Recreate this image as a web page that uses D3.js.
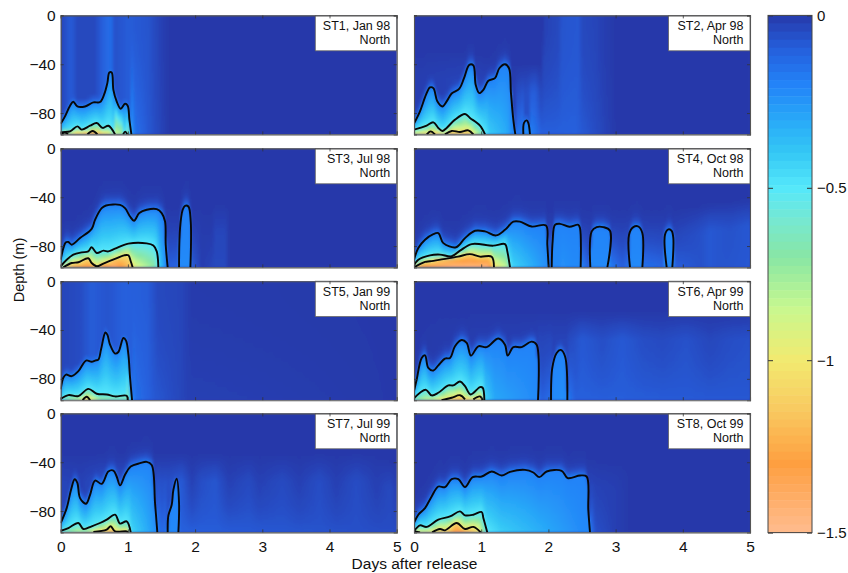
<!DOCTYPE html>
<html><head><meta charset="utf-8">
<script src="https://cdn.jsdelivr.net/npm/d3@7"></script>
<style>html,body{margin:0;padding:0;background:#fff}svg{display:block}text{font-family:"Liberation Sans",Arial,sans-serif;fill:#111}</style>
</head><body><div id="c"></div>
<script>
const labels=["ST1, Jan 98","ST2, Apr 98","ST3, Jul 98","ST4, Oct 98","ST5, Jan 99","ST6, Apr 99","ST7, Jul 99","ST8, Oct 99"];
const region="North";
const dayTicks=[0,1,2,3,4,5], depthTicks=[0,-40,-80], barTicks=[0,-0.5,-1,-1.5];
const colorValues=[0,-.1,-.2,-.3,-.4,-.5,-.6,-.7,-.85,-1,-1.15,-1.3,-1.5];
const colorHex=["#2639aa","#2560dd","#2383f8","#28a8f8","#35c8f5","#55e8fb","#78e8cf","#88e6a5","#c8f88f","#f2ea70","#f9c85f","#fe9f40","#ffbc8f"];

// contours: lobes of [day, depth]
const st1Outer=[[[0,-88.7],[.064,-82.7],[.139,-74],[.188,-70.7],[.248,-74.6],[.362,-74.6],[.486,-71.3],[.585,-71],[.645,-65],[.694,-55.5],[.724,-46.8],[.759,-46.8],[.784,-61],[.833,-70.5],[.893,-76.5],[.957,-72.4],[.997,-74],[1.022,-85.4],[1.052,-97.5]]];
const st1Mid=[[[0,-97],[.015,-95.8],[.139,-95],[.248,-90.9],[.312,-93.6],[.437,-90.4],[.536,-88.2],[.625,-92.2],[.71,-90.4],[.809,-97.5]],[[.93,-97.5],[.96,-95.2],[.99,-97.5]]];
const st1Inner=[[[.01,-97.5],[.06,-96],[.11,-97.5]],[[.397,-97.5],[.476,-94.7],[.546,-97.5]]];
const st2Outer=[[[0,-88.7],[.089,-78.6],[.179,-65],[.238,-59],[.288,-59.6],[.347,-70.4],[.422,-74.6],[.486,-70.4],[.56,-64],[.675,-60],[.744,-51.4],[.823,-40.5],[.883,-41],[.918,-56.9],[.972,-63.7],[1.032,-61],[1.106,-53.6],[1.205,-51.4],[1.27,-43.3],[1.354,-40],[1.414,-43.3],[1.443,-63.7],[1.478,-85.4],[1.508,-97.5]],[[1.627,-97.5],[1.637,-88],[1.677,-86],[1.701,-88],[1.726,-97.5]]];
const st2Mid=[[[0,-93.6],[.089,-92.2],[.188,-90.3],[.288,-87.6],[.362,-92.2],[.422,-94.7],[.486,-92.2],[.61,-85.4],[.759,-80.8],[.833,-84],[.982,-90.3],[1.057,-97.5]]];
const st2Inner=[[[.19,-97.5],[.248,-95],[.312,-97.5]],[[.461,-97.5],[.56,-94.7],[.685,-95.5],[.808,-94.2],[.883,-97.5]]];
const st3Outer=[[[0,-91.2],[.04,-81.6],[.074,-77],[.114,-76.7],[.164,-78.9],[.288,-73.5],[.461,-65.9],[.511,-58.5],[.61,-49],[.675,-46.8],[.883,-46.3],[.957,-49],[1.032,-55.8],[1.091,-59.3],[1.17,-53],[1.28,-50.3],[1.43,-49.8],[1.503,-53],[1.553,-59.9],[1.563,-79],[1.592,-97.5]],[[1.761,-97.5],[1.776,-65.3],[1.815,-50.3],[1.85,-47],[1.9,-47.6],[1.935,-59.9],[1.93,-97.5]]];
const st3Mid=[[[0,-96.6],[.089,-91.2],[.188,-87.1],[.312,-85.2],[.41,-84.4],[.46,-81],[.536,-85.7],[.635,-83.8],[.709,-84.4],[.808,-82.2],[1.007,-78],[1.28,-77.8],[1.379,-79.6],[1.429,-84.4],[1.453,-97.5]]];
const st3Inner=[[[.04,-97.5],[.164,-93.9],[.263,-93.3],[.41,-90],[.46,-93.9],[.536,-96.6],[.635,-94.4],[.808,-90.5],[.942,-87.6],[1.007,-87.6],[1.042,-92.5],[1.071,-97.5]]];
const st4Outer=[[[0,-91.2],[.064,-81.6],[.164,-74.8],[.288,-70.2],[.362,-69.4],[.437,-77.6],[.625,-81],[.759,-73.5],[.908,-67.5],[1.057,-68],[1.22,-71.3],[1.354,-66.7],[1.478,-60],[1.577,-60],[1.75,-64],[1.964,-63.2],[1.984,-79],[2.004,-97.5]],[[2.049,-97.5],[2.063,-76.2],[2.098,-62.6],[2.173,-61.8],[2.312,-64.2],[2.445,-62.6],[2.47,-65.3],[2.48,-97.5]],[[2.624,-97.5],[2.644,-68],[2.718,-64.5],[2.817,-64.5],[2.917,-67.5],[2.877,-97.5]],[[3.214,-97.5],[3.2,-70.7],[3.264,-64.5],[3.338,-64],[3.398,-69.4],[3.398,-97.5]],[[3.76,-97.5],[3.735,-70.7],[3.785,-66.4],[3.834,-67.5],[3.859,-73.5],[3.844,-97.5]]];
const st4Mid=[[[0,-95.8],[.064,-91.2],[.238,-87.6],[.387,-87],[.56,-88.4],[.685,-83.8],[.858,-78.4],[1.18,-79.7],[1.354,-78.4],[1.389,-84.4],[1.429,-97.5]]];
const st4Inner=[[[0,-97.5],[.164,-93],[.238,-92.5],[.437,-90.7],[.655,-88.7],[.833,-86.6],[.982,-88.7],[1.156,-88.7],[1.19,-97.5]]];
const st5Outer=[[[0,-88.7],[.04,-79],[.079,-76.5],[.164,-77.8],[.263,-73.7],[.377,-65],[.461,-66],[.511,-65],[.56,-64.2],[.6,-56],[.665,-42],[.694,-43.8],[.734,-52],[.809,-59.3],[.858,-58],[.933,-46.5],[.972,-48.7],[1.007,-60],[1.032,-79],[1.062,-97.5]]];
const st5Mid=[[[0,-96.6],[.114,-93.3],[.263,-94.1],[.412,-88.2],[.536,-92.2],[.685,-92.8],[.809,-94.4],[.982,-93.9],[.997,-97.5]]];
const st5Inner=[[[.327,-97.5],[.387,-94.7],[.437,-97.5]]];
const st6Outer=[[[0,-90],[.04,-80.5],[.114,-62.9],[.164,-60.7],[.213,-71],[.288,-73.2],[.362,-68.9],[.461,-63.4],[.536,-62.9],[.61,-53.3],[.709,-48.2],[.784,-50.6],[.848,-61],[.957,-53.3],[1.081,-54],[1.255,-47],[1.354,-52],[1.394,-61],[1.478,-54],[1.602,-54],[1.751,-49.5],[1.825,-52],[1.845,-97.5]],[[2.039,-97.5],[2.058,-71],[2.123,-58.8],[2.183,-56.3],[2.247,-61.5],[2.282,-97.5]]];
const st6Mid=[[[0,-96],[.089,-91.4],[.179,-89],[.263,-93.6],[.362,-91.4],[.511,-85.4],[.585,-85.4],[.685,-82.2],[.759,-86],[.843,-92.8],[.982,-86.8],[1.022,-87.3],[1.047,-97.5]]];
const st6Inner=[[[.41,-97.5],[.56,-95.5],[.685,-93.4],[.759,-96.8]],[[.883,-96.8],[.982,-94.4],[1.022,-97.5]]];
const st7Outer=[[[0,-89.8],[.089,-77.6],[.154,-62.6],[.208,-54],[.248,-57],[.288,-69.4],[.377,-74],[.437,-66.7],[.511,-55],[.61,-57.7],[.709,-47.6],[.784,-46.8],[.833,-51.7],[.883,-59],[.957,-50.3],[1.042,-43.5],[1.181,-40.8],[1.28,-39.7],[1.354,-42.2],[1.404,-73.5],[1.438,-97.5]],[[1.592,-97.5],[1.602,-83.8],[1.652,-74.8],[1.677,-62.6],[1.726,-53.6],[1.761,-73.5],[1.751,-97.5]]];
const st7Mid=[[[0,-96.3],[.114,-93.9],[.263,-89.8],[.337,-94.7],[.461,-92.5],[.585,-89.8],[.685,-87],[.809,-83],[.883,-90.3],[.982,-88.4],[1.042,-97.5]]];
const st7Inner=[[[.486,-97.2],[.685,-95.2],[.744,-92.5],[.809,-96.6],[.982,-96.6],[1,-97.5]]];
const st8Outer=[[[0,-89.8],[.064,-83],[.164,-77.6],[.263,-68],[.362,-59.9],[.461,-60.4],[.56,-53.9],[.66,-53.9],[.759,-60.4],[.873,-52.2],[1.007,-51.7],[1.156,-47.6],[1.305,-50.9],[1.429,-47.9],[1.652,-46.3],[1.776,-48.4],[1.865,-52.2],[1.974,-47.6],[2.197,-47],[2.287,-53],[2.47,-50.9],[2.569,-51.7],[2.594,-79],[2.619,-97.5]]];
const st8Mid=[[[0,-96.6],[.089,-91.7],[.188,-93],[.362,-87],[.536,-84.4],[.685,-80.3],[.759,-83.5],[.883,-83],[1.007,-80.8],[1.032,-85.7],[1.091,-97.5]]];
const st8Inner=[[[0,-96.6],[.09,-97.5]],[[.27,-97.5],[.387,-94.7],[.461,-95.8],[.635,-89.8],[.759,-94.7],[.883,-93],[.992,-97.5]]];

// faint upper-water stripes: [day, value, top of stripe depth]
const st1Tint=[[0,-.03,0],[.15,-.09,0],[.25,-.04,0],[.5,-.04,0],[.65,-.11,0],[.75,-.14,0],[.8,-.06,0],[1,-.09,0],[1.3,-.07,0],[1.45,-.03,0],[1.6,0,0]];
const st2Tint=[[0,-.01,-30],[.8,-.03,-30],[1.5,-.02,-40],[1.8,-.08,-40],[1.9,-.02,-40],[1.93,-.02,0],[2.15,-.04,0],[2.2,-.07,0],[2.45,-.08,0],[2.5,-.04,0],[2.7,-.03,0],[2.85,-.01,0],[3,0,0]];
const st3Tint=[[0,0,-40],[1.95,-.01,-47],[2.25,0,-47],[2.3,-.03,-47],[2.45,-.03,-47],[2.5,0,-47]];
const st4Tint=[[0,0,-50],[2,-.01,-50],[3.9,-.02,-50],[4.2,-.05,-48],[4.4,-.08,-46],[4.7,-.06,-44],[5,-.08,-42]];
const st5Tint=[[0,-.03,0],[.3,-.05,0],[.45,-.09,0],[.7,-.07,0],[.95,-.1,0],[1.3,-.09,0],[1.45,-.04,0],[1.8,-.03,0],[1.95,-.005,0],[5,0,0]];
const st6Tint=[[0,0,-25],[1.8,-.02,-25],[2.3,-.03,-26],[2.5,-.08,-26],[2.8,-.05,-26],[3.1,-.08,-26],[3.4,-.05,-26],[3.7,-.04,-26],[4.05,-.06,-26],[4.4,-.03,-26],[4.7,-.05,-26],[5,-.06,-26]];
const st7Tint=[[0,-.03,-34],[.3,-.02,-34],[.6,-.05,-34],[1.55,-.05,-34],[1.8,-.08,-34],[1.95,-.01,-34],[2.1,-.05,-34],[2.3,-.07,-34],[2.5,-.01,-34],[2.8,-.04,-34],[2.95,-.01,-34],[3.3,-.04,-34],[3.55,-.01,-34],[3.85,-.05,-34],[4.1,-.01,-34],[4.4,-.05,-34],[4.7,-.01,-34],[4.9,-.04,-40],[5,-.01,-40]];
const st8Tint=[[0,0,-36],[2.6,-.02,-38],[3,-.015,-40],[3.2,0,-40]];

// value at the sea-bed row: [day, value]
const st1Floor=[[0,-.9],[.4,-1.3],[.5,-1.3],[.8,-.9],[1,-.7],[1.05,-.3],[1.1,-.15],[1.3,-.08],[1.6,0],[5,0]];
const st2Floor=[[0,-1],[.3,-1.15],[.8,-1.15],[1.05,-.6],[1.1,-.42],[1.4,-.3],[1.5,-.15],[1.7,-.22],[1.9,-.1],[2.4,-.1],[3,0],[5,0]];
const st3Floor=[[0,-.9],[.2,-1.25],[.8,-1.42],[1.05,-1.15],[1.1,-.95],[1.4,-.7],[1.45,-.45],[1.55,-.25],[1.6,-.1],[1.76,-.12],[1.85,-.22],[1.95,-.1],[2.1,-.01],[2.3,-.04],[2.45,-.04],[2.5,0],[5,0]];
const st4Floor=[[0,-1.2],[.2,-1.38],[.6,-1.45],[1.1,-1.45],[1.19,-1.05],[1.4,-.8],[1.45,-.45],[2,-.22],[2.05,-.15],[2.2,-.24],[2.5,-.2],[2.6,-.1],[2.7,-.22],[2.9,-.2],[3.1,-.1],[3.3,-.22],[3.42,-.15],[3.7,-.12],[3.8,-.22],[3.9,-.1],[4.3,-.06],[5,-.08]];
const st5Floor=[[0,-.6],[.4,-1.1],[.6,-.75],[1,-.7],[1.05,-.3],[1.1,-.15],[1.4,-.08],[1.9,-.02],[5,0]];
const st6Floor=[[0,-.7],[.5,-1.1],[.7,-1.2],[1,-1.05],[1.05,-.45],[1.2,-.3],[1.8,-.22],[1.9,-.1],[2.05,-.15],[2.2,-.24],[2.4,-.1],[5,-.08]];
const st7Floor=[[0,-.7],[.4,-.9],[.75,-1.2],[1,-1.05],[1.05,-.45],[1.4,-.25],[1.5,-.12],[1.65,-.2],[1.8,-.1],[5,-.05]];
const st8Floor=[[0,-.9],[.5,-1.15],[.65,-1.38],[.95,-1.05],[1.09,-.5],[1.3,-.42],[2,-.3],[2.5,-.22],[2.62,-.18],[2.7,-.06],[3,-.015],[3.2,0],[5,0]];

const outers=[st1Outer,st2Outer,st3Outer,st4Outer,st5Outer,st6Outer,st7Outer,st8Outer];
const mids=[st1Mid,st2Mid,st3Mid,st4Mid,st5Mid,st6Mid,st7Mid,st8Mid];
const inners=[st1Inner,st2Inner,st3Inner,st4Inner,st5Inner,st6Inner,st7Inner,st8Inner];
const tints=[st1Tint,st2Tint,st3Tint,st4Tint,st5Tint,st6Tint,st7Tint,st8Tint];
const floors=[st1Floor,st2Floor,st3Floor,st4Floor,st5Floor,st6Floor,st7Floor,st8Floor];

const W=848,H=573, colX=[60.7,414], rowY=[15.4,148.4,281.2,413.4], pw=336, ph=119, bottomDepth=-97.5;
const svg=d3.select("#c").append("svg").attr("width",W).attr("height",H);
const defs=svg.append("defs");
defs.append("filter").attr("id","soft").attr("x","-2%").attr("y","-5%").attr("width","104%").attr("height","110%")
  .append("feGaussianBlur").attr("stdDeviation","0.9");
const color=d3.scaleLinear().domain(colorValues).range(colorHex).clamp(true);
const x=d3.scaleLinear().domain([0,5]).range([0,pw]);
const y=d3.scaleLinear().domain([0,bottomDepth]).range([0,ph]);

function crossing(lobes,d){let best=null;
  for(const l of lobes)for(let i=0;i<l.length-1;i++){const a=l[i],b=l[i+1];
    if((a[0]<=d&&d<=b[0])||(b[0]<=d&&d<=a[0])){const t=b[0]===a[0]?0:(d-a[0])/(b[0]-a[0]);const z=a[1]+t*(b[1]-a[1]);if(best===null||z>best)best=z;}}
  return best;}
function table(arr,idx,d){if(d<=arr[0][0])return arr[0][idx];
  for(let i=0;i<arr.length-1;i++)if(d<=arr[i+1][0]){const t=(d-arr[i][0])/(arr[i+1][0]-arr[i][0]);return arr[i][idx]+t*(arr[i+1][idx]-arr[i][idx]);}
  return arr[arr.length-1][idx];}
function field(k,d,z){
  const O=crossing(outers[k],d),M=crossing(mids[k],d),I=crossing(inners[k],d);
  const tv=table(tints[k],1,d),top=table(tints[k],2,d),f=table(floors[k],1,d);
  const fade=top>=-.01?1:Math.max(0,Math.min(1,(top-z)/22));
  const bg=tv*fade;
  if(O===null){const s=Math.max(0,(top-z)/(top-bottomDepth));return Math.min(bg,bg+(f-bg)*s*s);}
  if(z>=O){return Math.min(bg,-.2*Math.exp(-(z-O)/4));}
  const knots=[[O,-.2]];
  if(M!==null&&M<O)knots.push([M,-.5]);
  if(I!==null&&I<knots[knots.length-1][0])knots.push([I,-1]);
  const last=knots[knots.length-1];
  knots.push([bottomDepth-.01,Math.min(f,last[1]-.02)]);
  for(let i=0;i<knots.length-1;i++){const a=knots[i],b=knots[i+1];
    if(z<=a[0]&&z>=b[0]){const t=(z-a[0])/(b[0]-a[0]);return a[1]+(a[1]===-1?Math.sqrt(t):t)*(b[1]-a[1]);}}
  return f;}

const line=d3.line().x(p=>x(p[0])).y(p=>y(p[1])).curve(d3.curveCatmullRom.alpha(.5));
const colDays=d3.range(0,5,2/67.2), rows=d3.range(0,98,4).map(v=>-v).concat([bottomDepth]);
const fontAxis=15.5;

labels.forEach((lab,k)=>{
  const g=svg.append("g").attr("transform",`translate(${colX[k%2]},${rowY[Math.floor(k/2)]})`);
  defs.append("clipPath").attr("id","cp"+k).append("rect").attr("width",pw).attr("height",ph);
  const clip=g.append("g").attr("clip-path",`url(#cp${k})`);
  clip.append("rect").attr("width",pw).attr("height",ph).attr("fill",color(0));
  const heat=clip.append("g").attr("filter","url(#soft)");
  colDays.forEach((d,ci)=>{
    const id=`g${k}_${ci}`;
    const grad=defs.append("linearGradient").attr("id",id).attr("x1",0).attr("x2",0).attr("y1",0).attr("y2",1);
    rows.forEach(z=>grad.append("stop").attr("offset",y(z)/ph).attr("stop-color",color(field(k,d+1/67.2,z))));
    heat.append("rect").attr("x",x(d)).attr("width",x(2/67.2)+.6).attr("height",ph).attr("y",0).attr("fill",`url(#${id})`);
  });
  [outers[k],mids[k],inners[k]].forEach(lobes=>{
    clip.selectAll(null).data(lobes).enter().append("path").attr("d",line).attr("fill","none").attr("stroke","#080808").attr("stroke-width",1.9).attr("stroke-linejoin","round");
  });
  // label box
  g.append("rect").attr("x",pw-81.4).attr("y",0).attr("width",81.4).attr("height",35.4).attr("fill","#fff").attr("stroke","#666").attr("stroke-width",.8);
  g.append("text").attr("x",pw-6.5).attr("y",14.5).attr("text-anchor","end").attr("font-size",12.5).text(lab);
  g.append("text").attr("x",pw-6.5).attr("y",29).attr("text-anchor","end").attr("font-size",12.5).text(region);
  // axes
  const isBottom=k>=6,isLeft=k%2===0;
  const bx=d3.axisBottom(x).tickValues(dayTicks).tickSize(-3).tickPadding(isBottom?9:0).tickFormat(isBottom?d3.format("d"):"");
  const tx=d3.axisTop(x).tickValues(dayTicks).tickSize(-3).tickFormat("");
  const ly=d3.axisLeft(y).tickValues(depthTicks).tickSize(-3).tickPadding(isLeft?5:0).tickFormat(isLeft?d3.format("d"):"");
  const ry=d3.axisRight(y).tickValues(depthTicks).tickSize(-3).tickFormat("");
  [[bx,`translate(0,${ph})`],[tx,"translate(0,0)"],[ly,"translate(0,0)"],[ry,`translate(${pw},0)`]].forEach(([a,t])=>{
    const ax=g.append("g").attr("transform",t).call(a);
    ax.selectAll("path.domain").attr("stroke","#555").attr("stroke-width",1.1);
    ax.selectAll(".tick line").attr("stroke","#333").attr("stroke-width",.8);
    ax.selectAll("text").attr("font-size",fontAxis).attr("font-family","Liberation Sans, Arial, sans-serif").attr("fill","#111");
  });
});

// colour bar
const barX=768,barW=44,barTop=15.4,barH=517.2;
const by=d3.scaleLinear().domain([0,-1.5]).range([0,barH]);
const bar=svg.append("g").attr("transform",`translate(${barX},${barTop})`);
const barLevels=d3.range(0,-1.5,-1.5/64);
bar.selectAll("rect.c").data(barLevels).enter().append("rect").attr("class","c").attr("x",0).attr("width",barW)
  .attr("y",v=>by(v)).attr("height",barH/64+.5).attr("fill",v=>color(v-.0117));
const ba=bar.append("g").attr("transform",`translate(${barW},0)`).call(d3.axisRight(by).tickValues(barTicks).tickSize(-5).tickPadding(5).tickFormat(d=>d===0?"0":d3.format("")(d)));
ba.selectAll("path.domain").remove();
ba.selectAll("text").attr("font-size",15).attr("font-family","Liberation Sans, Arial, sans-serif").attr("fill","#111");
ba.selectAll(".tick line").attr("stroke","#333");
bar.append("g").call(d3.axisLeft(by).tickValues(barTicks).tickSize(-5).tickFormat("")).call(s=>{s.select("path.domain").remove();s.selectAll(".tick line").attr("stroke","#333");});
bar.append("rect").attr("width",barW).attr("height",barH).attr("fill","none").attr("stroke","#444").attr("stroke-width",1);

svg.append("text").attr("transform","translate(24,270) rotate(-90)").attr("text-anchor","middle").attr("font-size",14.5).text("Depth (m)");
svg.append("text").attr("x",414.5).attr("y",569).attr("text-anchor","middle").attr("font-size",15.5).text("Days after release");
</script></body></html>
